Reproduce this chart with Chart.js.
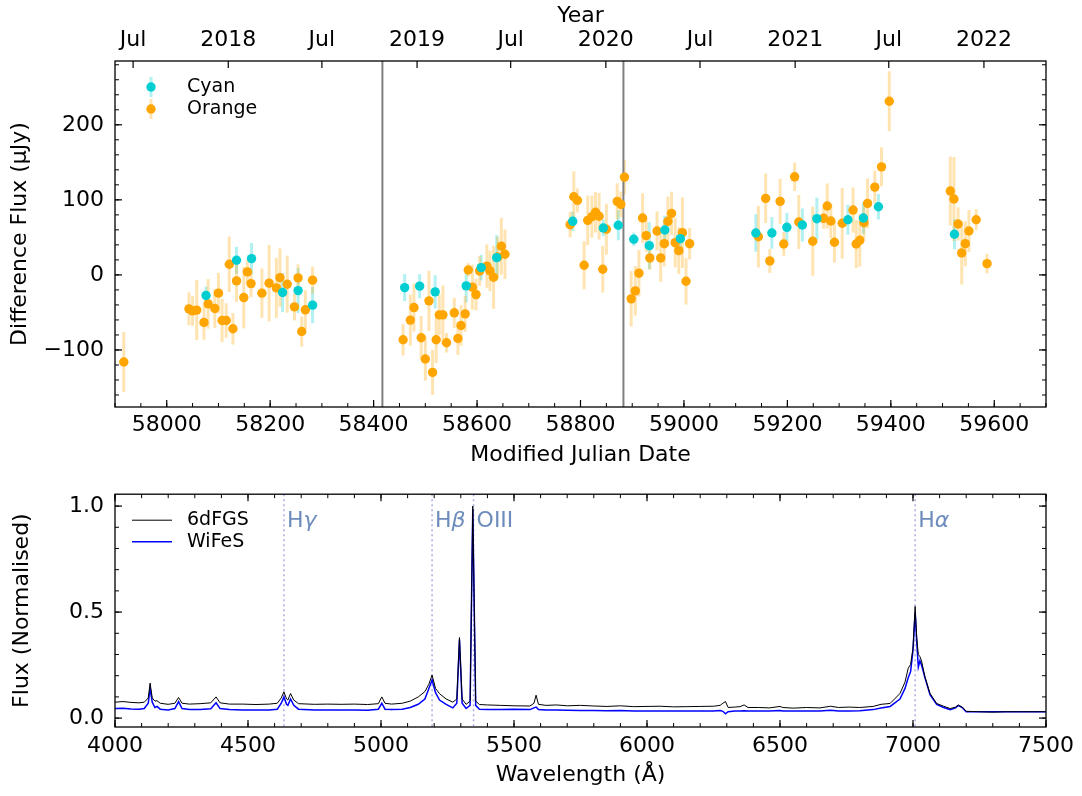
<!DOCTYPE html>
<html>
<head>
<meta charset="utf-8">
<script src="https://cdn.jsdelivr.net/npm/chart.js@4.4.0/dist/chart.umd.min.js"></script>
<style>
  body { margin: 0; background: #fff; width: 1082px; height: 796px; overflow: hidden; }
  canvas { position: absolute; left: 0; }
  #lightcurve { top: 0; }
  #spectrum { top: 470px; }
</style>
</head>
<body>
<canvas id="lightcurve" width="1082" height="470"></canvas>
<canvas id="spectrum" width="1082" height="326"></canvas>
<script>
// ---- light curve data (MJD, difference flux in uJy, 1-sigma error) ----
const cyanMjd = [58076, 58135, 58164, 58224, 58254, 58282, 58460, 58489, 58519, 58579,
  58608, 58638, 58785, 58844, 58873, 58903, 58933, 58963, 58993, 59139,
  59170, 59199, 59229, 59257, 59317, 59347, 59376, 59523];
const cyanFlux = [-27.5, 19.5, 21.7, -23.5, -20.9, -40.3, -16.9, -15.0, -22.6, -14.6,
  9.7, 23.0, 71.4, 62.5, 66.1, 47.5, 39.0, 59.8, 48.3, 55.9,
  55.9, 63.4, 66.5, 74.9, 73.5, 75.8, 90.8, 54.1];
const cyanErr = [12, 18, 21, 26, 30, 24, 18, 16, 22, 22,
  17, 30, 13, 11, 20, 9, 31, 19, 14, 25,
  21, 19, 22, 28, 20, 21, 17, 20];

const orangeMjd = [57917, 58043, 58050, 58058, 58072, 58080, 58093, 58100, 58107, 58115,
  58121, 58128, 58135, 58149, 58156, 58163, 58184, 58198, 58212, 58219,
  58233, 58247, 58254, 58261, 58268, 58282,
  58457, 58471, 58478, 58492, 58500, 58507, 58514, 58521, 58527, 58534,
  58541, 58556, 58563, 58569, 58577, 58583, 58591, 58598, 58605, 58619,
  58625, 58632, 58640, 58647, 58654,
  58780, 58787, 58794, 58807, 58814, 58822, 58829, 58836, 58843, 58850,
  58871, 58878, 58885, 58898, 58906, 58913, 58920, 58927, 58934, 58948,
  58955, 58962, 58969, 58976, 58983, 58990, 58997, 59004, 59011,
  59144, 59158, 59166, 59186, 59193, 59214, 59222, 59249, 59270, 59277,
  59284, 59291, 59306, 59327, 59333, 59340, 59348, 59355, 59369, 59382, 59397,
  59515, 59522, 59530, 59537, 59544, 59551, 59565, 59586];
const orangeFlux = [-116.1, -45.2, -47.9, -46.9, -63.4, -38.6, -44.8, -24.3, -60.8, -60.8,
  14.2, -71.8, -8.0, -30.2, 4.0, -11.6, -24.3, -11.0, -17.3, -3.6,
  -12.4, -42.6, -4.0, -75.4, -46.5, -7.0,
  -86.4, -60.2, -43.5, -83.8, -112.1, -34.6, -129.9, -86.4, -53.2, -53.2,
  -90.4, -50.5, -84.7, -67.4, -51.9, 6.6, -16.4, -26.2, 5.3, 11.6,
  5.3, -3.1, 23.9, 38.2, 27.5,
  66.9, 104.1, 99.3, 12.9, 72.7, 77.5, 83.4, 78.1, 7.6, 60.8,
  98.0, 94.0, 130.3, -31.9, -21.3, 2.3, 75.8, 52.3, 22.6, 58.5,
  22.6, 41.6, 71.4, 82.0, 43.0, 32.3, 56.3, -8.4, 41.6,
  50.9, 102.0, 18.6, 98.0, 41.2, 130.7, 70.5, 44.8, 75.4, 91.8,
  71.8, 43.5, 68.8, 86.4, 41.2, 46.1, 69.5, 95.3, 117.0, 144.0, 231.4,
  111.7, 101.1, 67.8, 29.3, 41.6, 58.5, 73.5, 15.0];
const orangeErr = [40, 22, 20, 40, 23, 33, 26, 27, 29, 23,
  37, 21, 28, 41, 16, 18, 33, 51, 40, 39,
  38, 18, 18, 20, 26, 18,
  21, 34, 32, 29, 29, 40, 30, 31, 27, 39,
  13, 20, 22, 27, 24, 9, 30, 21, 20, 29,
  27, 42, 27, 38, 33,
  17, 34, 16, 32, 33, 28, 27, 31, 31, 34,
  24, 17, 23, 37, 33, 31, 33, 22, 16, 26,
  32, 30, 33, 29, 33, 31, 47, 31, 21,
  41, 33, 16, 30, 16, 19, 36, 46, 14, 30,
  23, 27, 47, 30, 32, 35, 22, 33, 22, 26, 40,
  46, 56, 22, 42, 30, 28, 14, 13];

const splitMjd = [58417, 58883];

const mjdTicks = [58000, 58200, 58400, 58600, 58800, 59000, 59200, 59400, 59600];
const fluxTicks = [-100, 0, 100, 200];
const yearTickMjd = [57935, 58119, 58300, 58484, 58665, 58849, 59031, 59215, 59396, 59580];
const yearTickLabels = ['Jul', '2018', 'Jul', '2019', 'Jul', '2020', 'Jul', '2021', 'Jul', '2022'];

// ---- spectrum data (observed wavelength in Angstrom, normalised flux) ----
const wavelength = [4000, 4030, 4060, 4090, 4110, 4125, 4132, 4140, 4150, 4158,
  4170, 4200, 4225, 4239, 4252, 4280, 4320, 4360, 4380, 4395,
  4430, 4480, 4530, 4580, 4610, 4625, 4635, 4645, 4650, 4660,
  4672, 4690, 4750, 4800, 4850, 4900, 4950, 4990, 5003, 5015,
  5040, 5080, 5110, 5140, 5165, 5180, 5192, 5205, 5220, 5245,
  5270, 5285, 5295, 5305, 5320, 5335, 5345, 5356, 5370, 5400,
  5450, 5500, 5560, 5575, 5583, 5592, 5620, 5660, 5700, 5750,
  5800, 5850, 5900, 5950, 6000, 6050, 6100, 6150, 6200, 6250,
  6275, 6285, 6295, 6305, 6330, 6350, 6365, 6380, 6420, 6460,
  6500, 6510, 6550, 6600, 6650, 6690, 6720, 6760, 6800, 6850,
  6880, 6914, 6951, 6970, 6982, 6991, 7000, 7008, 7014, 7020,
  7026, 7032, 7045, 7064, 7089, 7115, 7140, 7160, 7170, 7185,
  7200, 7250, 7300, 7350, 7400, 7450, 7500];
const flux6dFGS = [0.075, 0.078, 0.074, 0.072, 0.075, 0.095, 0.165, 0.095, 0.080, 0.082,
  0.070, 0.065, 0.070, 0.097, 0.070, 0.066, 0.068, 0.072, 0.100, 0.072,
  0.066, 0.066, 0.064, 0.066, 0.070, 0.095, 0.124, 0.090, 0.085, 0.116,
  0.085, 0.068, 0.065, 0.066, 0.065, 0.066, 0.064, 0.068, 0.100, 0.070,
  0.066, 0.070, 0.080, 0.100, 0.125, 0.160, 0.203, 0.140, 0.115, 0.090,
  0.075, 0.090, 0.380, 0.090, 0.065, 0.080, 1.000, 0.080, 0.064, 0.062,
  0.060, 0.058, 0.057, 0.070, 0.108, 0.065, 0.060, 0.062, 0.058, 0.060,
  0.057, 0.055, 0.058, 0.054, 0.055, 0.056, 0.053, 0.054, 0.055, 0.056,
  0.060, 0.070, 0.078, 0.050, 0.052, 0.054, 0.062, 0.050, 0.050, 0.048,
  0.055, 0.050, 0.047, 0.050, 0.048, 0.056, 0.050, 0.052, 0.050, 0.055,
  0.065, 0.069, 0.116, 0.170, 0.235, 0.253, 0.330, 0.527, 0.380, 0.300,
  0.290, 0.270, 0.194, 0.116, 0.069, 0.056, 0.045, 0.052, 0.061, 0.052,
  0.032, 0.030, 0.028, 0.030, 0.030, 0.030, 0.030];
const fluxWiFeS = [0.045, 0.047, 0.043, 0.042, 0.045, 0.070, 0.140, 0.075, 0.050, 0.055,
  0.042, 0.038, 0.045, 0.078, 0.045, 0.040, 0.040, 0.044, 0.072, 0.045,
  0.040, 0.038, 0.038, 0.038, 0.042, 0.070, 0.100, 0.065, 0.060, 0.090,
  0.060, 0.042, 0.038, 0.038, 0.038, 0.038, 0.037, 0.042, 0.070, 0.042,
  0.040, 0.042, 0.050, 0.065, 0.090, 0.140, 0.180, 0.120, 0.085, 0.065,
  0.048, 0.070, 0.370, 0.070, 0.045, 0.060, 0.985, 0.060, 0.042, 0.040,
  0.040, 0.042, 0.040, 0.048, 0.052, 0.040, 0.038, 0.038, 0.037, 0.036,
  0.036, 0.035, 0.036, 0.034, 0.034, 0.034, 0.033, 0.033, 0.034, 0.034,
  0.036, 0.032, 0.020, 0.030, 0.034, 0.033, 0.035, 0.033, 0.033, 0.033,
  0.036, 0.033, 0.033, 0.033, 0.033, 0.037, 0.034, 0.034, 0.035, 0.040,
  0.048, 0.055, 0.090, 0.140, 0.190, 0.220, 0.320, 0.499, 0.360, 0.240,
  0.270, 0.250, 0.190, 0.110, 0.065, 0.050, 0.040, 0.048, 0.060, 0.050,
  0.030, 0.030, 0.030, 0.030, 0.030, 0.030, 0.030];

const waveTicks = [4000, 4500, 5000, 5500, 6000, 6500, 7000, 7500];
const normTicks = [0.0, 0.5, 1.0];

const lineWavelengths = [4635, 5192, 5348, 7008];
const lineNames = ['H', 'H', 'OIII', 'H'];
const lineGreek = ['γ', 'β', '', 'α'];

// ---- helpers ----
const FONT = "'DejaVu Sans', sans-serif";

function range(from, to, step) {
    const out = [];
    for (let v = from; v <= to + step * 1e-6; v += step) out.push(Math.round(v * 1000) / 1000);
    return out;
}

function toPoints(xs, ys) {
    return xs.map((x, i) => ({ x: x, y: ys[i] }));
}

// matplotlib style frame with inward major/minor ticks
function frameTicksPlugin(sides) {
    return {
        id: 'frameTicks',
        afterDatasetsDraw(chart) {
            const { ctx, chartArea: a } = chart;
            ctx.save();
            ctx.strokeStyle = '#000';
            sides.forEach(s => {
                const scale = chart.scales[s.scale];
                const horizontal = s.edge === 'bottom' || s.edge === 'top';
                const mark = (vals, len, w) => {
                    ctx.lineWidth = w;
                    vals.forEach(v => {
                        const p = scale.getPixelForValue(v);
                        if (horizontal && (p < a.left - 0.5 || p > a.right + 0.5)) return;
                        if (!horizontal && (p < a.top - 0.5 || p > a.bottom + 0.5)) return;
                        ctx.beginPath();
                        if (s.edge === 'bottom') { ctx.moveTo(p, a.bottom); ctx.lineTo(p, a.bottom - len); }
                        if (s.edge === 'top') { ctx.moveTo(p, a.top); ctx.lineTo(p, a.top + len); }
                        if (s.edge === 'left') { ctx.moveTo(a.left, p); ctx.lineTo(a.left + len, p); }
                        if (s.edge === 'right') { ctx.moveTo(a.right, p); ctx.lineTo(a.right - len, p); }
                        ctx.stroke();
                    });
                };
                mark(s.minor || [], 4, 1);
                mark(s.major || [], 7, 1.2);
            });
            ctx.lineWidth = 1.3;
            ctx.strokeRect(a.left, a.top, a.right - a.left, a.bottom - a.top);
            ctx.restore();
        }
    };
}

// symmetric y error bars from each dataset's errors array
const errorBarPlugin = {
    id: 'errorBars',
    beforeDatasetsDraw(chart) {
        const { ctx, chartArea: a } = chart;
        const xs = chart.scales.x, ys = chart.scales.y;
        ctx.save();
        ctx.beginPath();
        ctx.rect(a.left, a.top, a.right - a.left, a.bottom - a.top);
        ctx.clip();
        chart.data.datasets.forEach(ds => {
            if (!ds.errors) return;
            ctx.strokeStyle = ds.errorColor;
            ctx.lineWidth = 3;
            ds.data.forEach((p, i) => {
                const px = xs.getPixelForValue(p.x);
                ctx.beginPath();
                ctx.moveTo(px, ys.getPixelForValue(p.y - ds.errors[i]));
                ctx.lineTo(px, ys.getPixelForValue(p.y + ds.errors[i]));
                ctx.stroke();
            });
        });
        ctx.restore();
    }
};

const lightLegendPlugin = {
    id: 'lightLegend',
    afterDraw(chart) {
        const { ctx, chartArea: a } = chart;
        const rows = [
            { label: 'Cyan', color: '#00CED1', err: 'rgba(0,206,209,0.3)' },
            { label: 'Orange', color: '#FFA500', err: 'rgba(255,165,0,0.3)' }
        ];
        ctx.save();
        ctx.font = '19px ' + FONT;
        ctx.textBaseline = 'middle';
        rows.forEach((r, i) => {
            const cx = a.left + 36, cy = a.top + 26 + i * 22;
            ctx.strokeStyle = r.err; ctx.lineWidth = 3;
            ctx.beginPath(); ctx.moveTo(cx, cy - 10); ctx.lineTo(cx, cy + 10); ctx.stroke();
            ctx.fillStyle = r.color;
            ctx.beginPath(); ctx.arc(cx, cy, 4.7, 0, Math.PI * 2); ctx.fill();
            ctx.fillStyle = '#000';
            ctx.fillText(r.label, a.left + 72, cy);
        });
        ctx.restore();
    }
};

const spectrumDecorPlugin = {
    id: 'spectrumDecor',
    beforeDatasetsDraw(chart) {
        const { ctx, chartArea: a } = chart;
        const xs = chart.scales.x;
        ctx.save();
        ctx.strokeStyle = 'rgba(150,150,220,0.8)';
        ctx.lineWidth = 1.5;
        ctx.setLineDash([2, 3]);
        lineWavelengths.forEach(w => {
            const px = xs.getPixelForValue(w);
            ctx.beginPath(); ctx.moveTo(px, a.top); ctx.lineTo(px, a.bottom); ctx.stroke();
        });
        ctx.restore();
    },
    afterDraw(chart) {
        const { ctx, chartArea: a } = chart;
        const xs = chart.scales.x;
        ctx.save();
        ctx.fillStyle = '#6d8cbc';
        ctx.textBaseline = 'middle';
        lineWavelengths.forEach((w, i) => {
            let x = xs.getPixelForValue(w) + 3;
            const y = a.top + 27;
            ctx.font = '22px ' + FONT;
            ctx.fillText(lineNames[i], x, y);
            x += ctx.measureText(lineNames[i]).width;
            if (lineGreek[i]) {
                ctx.font = 'italic 22px ' + FONT;
                ctx.fillText(lineGreek[i], x, y);
            }
        });
        // legend
        const rows = [{ label: '6dFGS', color: '#000', w: 1 }, { label: 'WiFeS', color: '#0000ff', w: 1.5 }];
        ctx.font = '19px ' + FONT;
        rows.forEach((r, i) => {
            const y = a.top + 26 + i * 21.5;
            ctx.strokeStyle = r.color; ctx.lineWidth = r.w;
            ctx.beginPath(); ctx.moveTo(a.left + 17, y); ctx.lineTo(a.left + 57, y); ctx.stroke();
            ctx.fillStyle = '#000';
            ctx.fillText(r.label, a.left + 72, y);
        });
        ctx.restore();
    }
};

function fixedSize(prop, value) {
    return function (scale) { scale[prop] = value; };
}

Chart.defaults.font.family = FONT;
Chart.defaults.color = '#000';

// ---- top panel: light curve ----
const lcChart = new Chart(document.getElementById('lightcurve'), {
    type: 'scatter',
    data: {
        datasets: [
            {
                label: 'Cyan',
                data: toPoints(cyanMjd, cyanFlux),
                errors: cyanErr,
                errorColor: 'rgba(0,206,209,0.3)',
                backgroundColor: '#00CED1',
                borderWidth: 0,
                pointRadius: 4.7
            },
            {
                label: 'Orange',
                data: toPoints(orangeMjd, orangeFlux),
                errors: orangeErr,
                errorColor: 'rgba(255,165,0,0.3)',
                backgroundColor: '#FFA500',
                borderWidth: 0,
                pointRadius: 4.7
            },
            ...splitMjd.map(m => ({
                type: 'line',
                data: [{ x: m, y: -176 }, { x: m, y: 285 }],
                borderColor: '#808080',
                borderWidth: 2,
                pointRadius: 0,
                order: 5
            }))
        ]
    },
    options: {
        responsive: false,
        animation: false,
        layout: { padding: { left: 0, right: 36, top: 0, bottom: 0 } },
        plugins: { legend: { display: false }, tooltip: { enabled: false } },
        scales: {
            x: {
                type: 'linear',
                position: 'bottom',
                min: 57900,
                max: 59700,
                afterBuildTicks: s => { s.ticks = mjdTicks.map(v => ({ value: v })); },
                afterFit: fixedSize('height', 63),
                grid: { display: false, drawTicks: false },
                border: { display: false },
                ticks: { font: { size: 22 }, padding: 5, maxRotation: 0, callback: v => String(v) },
                title: { display: true, text: 'Modified Julian Date', font: { size: 22 }, padding: { top: 0, bottom: 2 } }
            },
            year: {
                type: 'linear',
                position: 'top',
                axis: 'x',
                min: 57900,
                max: 59700,
                afterBuildTicks: s => { s.ticks = yearTickMjd.map(v => ({ value: v })); },
                afterFit: fixedSize('height', 61),
                grid: { display: false, drawTicks: false },
                border: { display: false },
                ticks: { font: { size: 22 }, padding: 8, maxRotation: 0, autoSkip: false,
                    callback: (v, i) => yearTickLabels[i] },
                title: { display: true, text: 'Year', font: { size: 22 }, padding: { top: 3, bottom: 0 } }
            },
            y: {
                type: 'linear',
                position: 'left',
                min: -176,
                max: 285,
                afterBuildTicks: s => { s.ticks = fluxTicks.map(v => ({ value: v })); },
                afterFit: fixedSize('width', 115),
                grid: { display: false, drawTicks: false },
                border: { display: false },
                ticks: { font: { size: 22 }, padding: 11, callback: v => (v < 0 ? '\u2212' + Math.abs(v) : String(v)) },
                title: { display: true, text: 'Difference Flux (\u03bcJy)', font: { size: 22 }, padding: { top: 7, bottom: 0 } }
            }
        }
    },
    plugins: [
        errorBarPlugin,
        lightLegendPlugin,
        frameTicksPlugin([
            { scale: 'x', edge: 'bottom', major: mjdTicks, minor: range(57900, 59700, 50) },
            { scale: 'year', edge: 'top', major: yearTickMjd },
            { scale: 'y', edge: 'left', major: fluxTicks, minor: range(-160, 280, 20) },
            { scale: 'y', edge: 'right', major: fluxTicks, minor: range(-160, 280, 20) }
        ])
    ]
});

// ---- bottom panel: spectrum ----
const specChart = new Chart(document.getElementById('spectrum'), {
    type: 'line',
    data: {
        datasets: [
            {
                label: '6dFGS',
                data: toPoints(wavelength, flux6dFGS),
                borderColor: '#000000',
                borderWidth: 1,
                pointRadius: 0,
                tension: 0
            },
            {
                label: 'WiFeS',
                data: toPoints(wavelength, fluxWiFeS),
                borderColor: '#0000ff',
                borderWidth: 1.5,
                pointRadius: 0,
                tension: 0
            }
        ]
    },
    options: {
        responsive: false,
        animation: false,
        layout: { padding: { left: 0, right: 36, top: 23, bottom: 0 } },
        plugins: { legend: { display: false }, tooltip: { enabled: false } },
        scales: {
            x: {
                type: 'linear',
                min: 4000,
                max: 7500,
                afterBuildTicks: s => { s.ticks = waveTicks.map(v => ({ value: v })); },
                afterFit: fixedSize('height', 69),
                grid: { display: false, drawTicks: false },
                border: { display: false },
                ticks: { font: { size: 22 }, padding: 6, maxRotation: 0, callback: v => String(v) },
                title: { display: true, text: 'Wavelength (\u00c5)', font: { size: 22 }, padding: { top: 0, bottom: 8 } }
            },
            y: {
                type: 'linear',
                min: -0.042,
                max: 1.056,
                afterBuildTicks: s => { s.ticks = normTicks.map(v => ({ value: v })); },
                afterFit: fixedSize('width', 115),
                grid: { display: false, drawTicks: false },
                border: { display: false },
                ticks: { font: { size: 22 }, padding: 11, callback: v => v.toFixed(1) },
                title: { display: true, text: 'Flux (Normalised)', font: { size: 22 }, padding: { top: 9, bottom: 0 } }
            }
        }
    },
    plugins: [
        spectrumDecorPlugin,
        frameTicksPlugin([
            { scale: 'x', edge: 'bottom', major: waveTicks, minor: range(4000, 7500, 100) },
            { scale: 'x', edge: 'top', major: waveTicks, minor: range(4000, 7500, 100) },
            { scale: 'y', edge: 'left', major: normTicks, minor: range(0, 1, 0.1) },
            { scale: 'y', edge: 'right', major: normTicks, minor: range(0, 1, 0.1) }
        ])
    ]
});
</script>
</body>
</html>
